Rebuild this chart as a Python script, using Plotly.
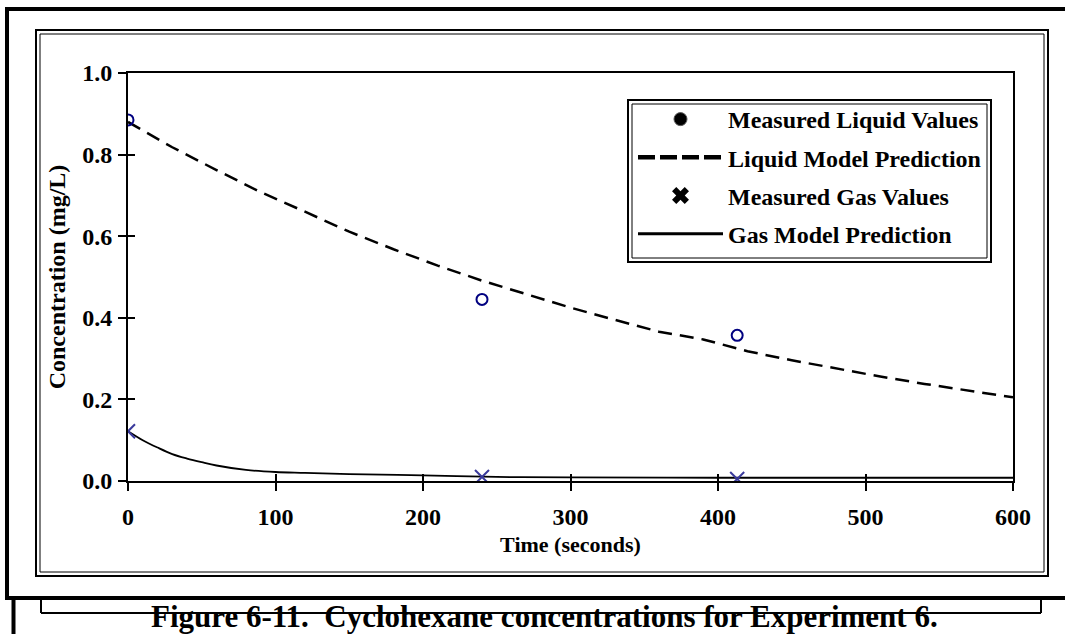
import plotly.graph_objects as go

# ---- data ----
liq_meas_t = [0, 240, 413]
liq_meas_c = [0.885, 0.445, 0.357]

gas_meas_t = [0, 240, 413]
gas_meas_c = [0.122, 0.010, 0.005]

liq_model_t = [0, 30, 60, 90, 120, 150, 180, 210, 240, 270, 300, 330, 360, 390,
               420, 450, 480, 510, 540, 570, 600]
liq_model_c = [0.880, 0.818, 0.762, 0.708, 0.660, 0.611, 0.568, 0.528, 0.491,
               0.458, 0.425, 0.395, 0.366, 0.347, 0.318, 0.296, 0.276, 0.256,
               0.238, 0.221, 0.205]

gas_model_t = [0, 10, 20, 30, 40, 50, 60, 80, 100, 120, 150, 200, 250, 300, 400, 500, 600]
gas_model_c = [0.122, 0.100, 0.082, 0.066, 0.055, 0.046, 0.038, 0.027, 0.022,
               0.020, 0.017, 0.014, 0.010, 0.009, 0.008, 0.008, 0.008]

x_ticks = [0, 100, 200, 300, 400, 500, 600]
y_ticks = [0.0, 0.2, 0.4, 0.6, 0.8, 1.0]

x_title = "Time (seconds)"
y_title = "Concentration (mg/L)"
caption = "Figure 6-11.\u00a0 Cyclohexane concentrations for Experiment 6."
names = ["Measured Liquid Values", "Liquid Model Prediction",
         "Measured Gas Values", "Gas Model Prediction"]

# ---- layout geometry (pixels) ----
WIDTH, HEIGHT = 1065, 634
L, R, T, B = 128, 1013, 73, 481
PW, PH = R - L, B - T


def px(x):
    return (x - L) / PW


def py(y):
    return (B - y) / PH


FONT = "Liberation Serif, Times New Roman, serif"

fig = go.Figure()

# visible data traces
fig.add_trace(go.Scatter(x=liq_model_t, y=liq_model_c, mode="lines",
                         line=dict(color="black", width=2.5, dash="14px,8px"),
                         showlegend=False, hoverinfo="skip"))
fig.add_trace(go.Scatter(x=gas_model_t, y=gas_model_c, mode="lines",
                         line=dict(color="black", width=1.8, shape="spline"),
                         showlegend=False, hoverinfo="skip"))
fig.add_trace(go.Scatter(x=liq_meas_t, y=liq_meas_c, mode="markers",
                         marker=dict(symbol="circle-open", size=11,
                                     color="#000080",
                                     line=dict(color="#000080", width=2)),
                         showlegend=False))
fig.add_trace(go.Scatter(x=gas_meas_t, y=gas_meas_c, mode="markers",
                         marker=dict(symbol="x-thin-open", size=14,
                                     color="#3a3a9c",
                                     line=dict(color="#3a3a9c", width=2)),
                         showlegend=False))

# legend entries
fig.add_trace(go.Scatter(x=[None], y=[None], mode="markers", name=names[0],
                         legendgroup="a",
                         marker=dict(symbol="circle", size=13, color="black",
                                     line=dict(color="#555", width=1))))
fig.add_trace(go.Scatter(x=[None], y=[None], mode="lines", name=names[1],
                         legendgroup="b",
                         line=dict(color="black", width=4.5, dash="17px,5px")))
fig.add_trace(go.Scatter(x=[None], y=[None], mode="markers", name=names[2],
                         legendgroup="c",
                         marker=dict(symbol="x", size=15, color="black")))
fig.add_trace(go.Scatter(x=[None], y=[None], mode="lines", name=names[3],
                         legendgroup="d",
                         line=dict(color="black", width=3)))

# invisible trace on overlay axes for inside ticks
fig.add_trace(go.Scatter(x=[None], y=[None], xaxis="x2", yaxis="y2",
                         showlegend=False, hoverinfo="skip"))

axis_common = dict(showgrid=False, zeroline=False, linecolor="black",
                   linewidth=2, tickcolor="black", tickwidth=2)

shapes = []


def rect(x0, y0, x1, y1, w):
    shapes.append(dict(type="rect", xref="paper", yref="paper",
                       x0=px(x0), x1=px(x1), y0=py(y0), y1=py(y1),
                       line=dict(color="black", width=w), layer="above"))


def line(x0, y0, x1, y1, w):
    shapes.append(dict(type="line", xref="paper", yref="paper",
                       x0=px(x0), x1=px(x1), y0=py(y0), y1=py(y1),
                       line=dict(color="black", width=w), layer="above"))


# outer thick frame
rect(7, 9, 1075, 598, 4)
# chart-area double frame
rect(36, 30, 1048, 576, 2)
rect(40, 34, 1044, 572, 1)
# legend double frame
rect(628, 100, 991, 262, 2)
rect(632, 104, 987, 258, 1)
# page rule and caption box lines
line(13.5, 600, 13.5, 640, 4)
line(41, 600, 41, 613, 2)
line(41, 613, 1041, 613, 2)
line(1041, 613, 1041, 600, 2)

fig.update_layout(
    width=WIDTH, height=HEIGHT,
    margin=dict(l=L, r=WIDTH - R, t=T, b=HEIGHT - B, autoexpand=False),
    paper_bgcolor="white", plot_bgcolor="white",
    font=dict(family=FONT, size=24, color="black", weight="bold"),
    xaxis=dict(range=[0, 600], tickvals=x_ticks, ticks="outside", ticklen=8,
               mirror=True, showline=True, ticklabelstandoff=5,
               title=dict(text=x_title, standoff=8,
                          font=dict(size=22, family=FONT, weight="bold")),
               **axis_common),
    yaxis=dict(range=[0, 1], tickvals=y_ticks, tickformat=".1f",
               ticks="outside", ticklen=8, mirror=True, showline=True,
               ticklabelstandoff=1,
               title=dict(text=y_title, standoff=10,
                          font=dict(size=24, family=FONT, weight="bold")),
               **axis_common),
    xaxis2=dict(range=[0, 600], tickvals=x_ticks, ticks="inside", ticklen=7,
                overlaying="x", showticklabels=False, showgrid=False,
                zeroline=False, tickcolor="black", tickwidth=2, showline=False),
    yaxis2=dict(range=[0, 1], tickvals=y_ticks, ticks="inside", ticklen=7,
                overlaying="y", showticklabels=False, showgrid=False,
                zeroline=False, tickcolor="black", tickwidth=2, showline=False),
    legend=dict(x=px(633), y=py(97), xanchor="left", yanchor="top",
                bgcolor="rgba(0,0,0,0)", borderwidth=0,
                itemwidth=85, tracegroupgap=4, traceorder="grouped",
                font=dict(size=24, family=FONT, weight="bold")),
    shapes=shapes,
    annotations=[dict(text=caption, xref="paper", yref="paper",
                      x=px(544), y=py(616), xanchor="center", yanchor="middle",
                      showarrow=False,
                      font=dict(size=31, family=FONT, weight="bold"))],
)

fig.write_html("out.html")
